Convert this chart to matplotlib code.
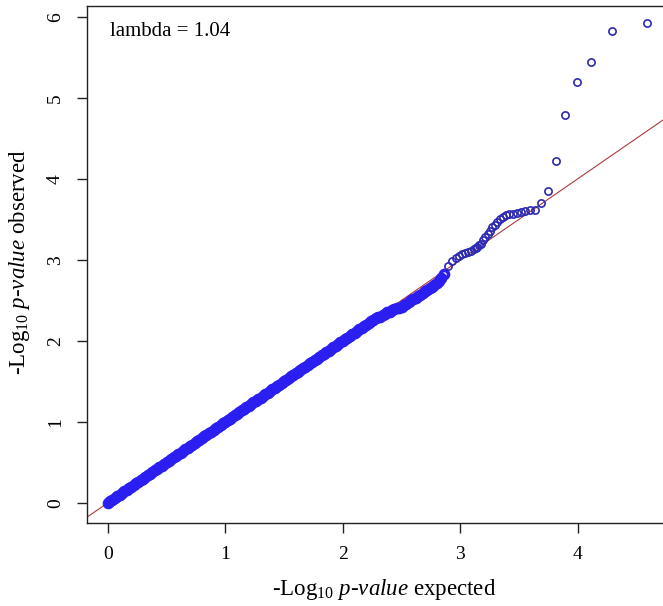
import matplotlib
matplotlib.use("Agg")
import matplotlib.pyplot as plt

plt.rcParams['font.family'] = ['Liberation Serif', 'DejaVu Serif']
plt.rcParams['mathtext.fontset'] = 'custom'
plt.rcParams['mathtext.rm'] = 'Liberation Serif'
plt.rcParams['mathtext.it'] = 'Liberation Serif:italic'

# ---- data ----
exp_dense = [0.00, 0.02, 0.04, 0.06, 0.08, 0.10, 0.12, 0.14, 0.16, 0.18,
             0.20, 0.22, 0.24, 0.26, 0.28, 0.30, 0.32, 0.34, 0.36, 0.38,
             0.40, 0.42, 0.44, 0.46, 0.48, 0.50, 0.52, 0.54, 0.56, 0.58,
             0.60, 0.62, 0.64, 0.66, 0.68, 0.70, 0.72, 0.74, 0.76, 0.78,
             0.80, 0.82, 0.84, 0.86, 0.88, 0.90, 0.92, 0.94, 0.96, 0.98,
             1.00, 1.02, 1.04, 1.06, 1.08, 1.10, 1.12, 1.14, 1.16, 1.18,
             1.20, 1.22, 1.24, 1.26, 1.28, 1.30, 1.32, 1.34, 1.36, 1.38,
             1.40, 1.42, 1.44, 1.46, 1.48, 1.50, 1.52, 1.54, 1.56, 1.58,
             1.60, 1.62, 1.64, 1.66, 1.68, 1.70, 1.72, 1.74, 1.76, 1.78,
             1.80, 1.82, 1.84, 1.86, 1.88, 1.90, 1.92, 1.94, 1.96, 1.98,
             2.00, 2.02, 2.04, 2.06, 2.08, 2.10, 2.12, 2.14, 2.16, 2.18,
             2.20, 2.22, 2.24, 2.26, 2.28, 2.30, 2.32, 2.34, 2.36, 2.38,
             2.40, 2.42, 2.44, 2.46, 2.48, 2.50, 2.52, 2.54, 2.56, 2.58,
             2.60, 2.62, 2.64, 2.66, 2.68, 2.70, 2.72, 2.74, 2.76, 2.78,
             2.80, 2.82, 2.84, 2.86]
obs_dense = [0.00, 0.02, 0.04, 0.06, 0.08, 0.10, 0.12, 0.14, 0.16, 0.18,
             0.20, 0.22, 0.24, 0.26, 0.28, 0.30, 0.32, 0.34, 0.36, 0.38,
             0.40, 0.42, 0.44, 0.46, 0.48, 0.50, 0.52, 0.54, 0.56, 0.58,
             0.60, 0.62, 0.64, 0.66, 0.68, 0.70, 0.72, 0.74, 0.76, 0.78,
             0.80, 0.82, 0.84, 0.86, 0.88, 0.90, 0.92, 0.94, 0.96, 0.98,
             1.00, 1.02, 1.04, 1.06, 1.08, 1.10, 1.12, 1.14, 1.16, 1.18,
             1.20, 1.22, 1.24, 1.26, 1.28, 1.30, 1.32, 1.34, 1.36, 1.38,
             1.40, 1.42, 1.44, 1.46, 1.48, 1.50, 1.52, 1.54, 1.56, 1.58,
             1.60, 1.62, 1.64, 1.66, 1.68, 1.70, 1.72, 1.74, 1.76, 1.78,
             1.80, 1.82, 1.84, 1.86, 1.88, 1.90, 1.92, 1.94, 1.96, 1.98,
             2.00, 2.02, 2.04, 2.06, 2.08, 2.10, 2.12, 2.14, 2.16, 2.18,
             2.20, 2.22, 2.24, 2.26, 2.28, 2.30, 2.30, 2.32, 2.33, 2.35,
             2.36, 2.38, 2.39, 2.40, 2.41, 2.42, 2.44, 2.46, 2.48, 2.50,
             2.51, 2.53, 2.55, 2.57, 2.59, 2.61, 2.63, 2.65, 2.67, 2.69,
             2.71, 2.74, 2.78, 2.82]
exp_tail = [2.894, 2.930, 2.960, 2.991, 3.013, 3.037, 3.062, 3.088, 3.116,
            3.131, 3.146, 3.162, 3.178, 3.195, 3.213, 3.232, 3.251, 3.271,
            3.292, 3.315, 3.338, 3.363, 3.389, 3.417, 3.447, 3.479, 3.514,
            3.552, 3.593, 3.639, 3.690, 3.748, 3.815, 3.894, 3.991, 4.116,
            4.292, 4.593]
obs_tail = [2.92, 2.99, 3.02, 3.05, 3.07, 3.08, 3.10, 3.11, 3.13,
            3.15, 3.16, 3.18, 3.20, 3.24, 3.28, 3.32, 3.36, 3.40,
            3.43, 3.47, 3.50, 3.53, 3.55, 3.56, 3.57, 3.58, 3.59,
            3.60, 3.61, 3.62, 3.70, 3.85, 4.22, 4.79, 5.20, 5.44,
            5.82, 5.92]
lambda_text = "lambda = 1.04"
x_ticks = [0, 1, 2, 3, 4]
y_ticks = [0, 1, 2, 3, 4, 5, 6]

W, H = 663, 606
fig = plt.figure(figsize=(W / 100, H / 100), dpi=100)
ax = fig.add_axes([87 / W, (H - 523) / H, (670 - 87) / W, (523 - 6) / H])
ax.set_xlim(-0.177, 4.785)
ax.set_ylim(-0.249, 6.133)

ax.axline((0, 0), slope=1, color='#b03a3a', linewidth=0.8, zorder=1)
pt_color = '#2a1ef0'
ax.plot(exp_dense, obs_dense, linestyle='none', marker='o', markersize=5.8,
        markerfacecolor='none', markeredgecolor=pt_color, markeredgewidth=2.6,
        zorder=2)
ax.plot(exp_tail, obs_tail, linestyle='none', marker='o', markersize=5.2,
        markerfacecolor='none', markeredgecolor='#2c2ab0', markeredgewidth=1.2,
        zorder=2)

for s in ['left', 'bottom', 'top']:
    ax.spines[s].set_linewidth(1.0)
    ax.spines[s].set_color('#222222')
ax.spines['right'].set_visible(False)

ax.set_xticks(x_ticks)
ax.set_yticks(y_ticks)
ax.tick_params(axis='both', direction='out', length=7.5, width=1.0,
               color='#222222', labelsize=14, pad=9)
for lab in ax.get_yticklabels():
    lab.set_rotation(90)
    lab.set_va('center')

ax.set_xlabel(r'-Log$_{10}$ $\mathit{p}$-$\mathit{value}$ expected',
              fontsize=16.5)
ax.set_ylabel(r'-Log$_{10}$ $\mathit{p}$-$\mathit{value}$ observed',
              fontsize=16.5)
ax.yaxis.set_label_coords(-(87 - 20) / (670 - 87), (523 - 262) / (523 - 6))
ax.xaxis.set_label_coords((384 - 87) / (670 - 87), -(590 - 523) / (523 - 6))
ax.xaxis.label.set_va('center')
ax.yaxis.label.set_va('center')

fig.text(110 / W, 1 - 31 / H, lambda_text, fontsize=15, va='center', ha='left')

fig.savefig('out.png', dpi=100)
